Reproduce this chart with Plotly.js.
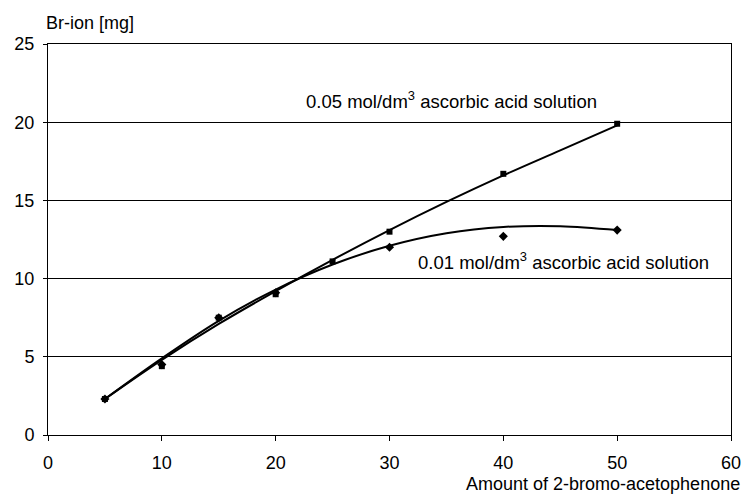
<!DOCTYPE html>
<html>
<head>
<meta charset="utf-8">
<script src="https://cdn.plot.ly/plotly-3.0.1.min.js"></script>
<style>html,body{margin:0;padding:0;background:#fff;}#chart{width:743px;height:496px;}</style>
</head>
<body>
<div id="chart"></div>
<script>
// Measured points
const x005 = [5, 10, 15, 20, 25, 30, 40, 50];
const y005 = [2.3, 4.4, 7.5, 9.0, 11.1, 13.0, 16.7, 19.9];
const x001 = [5, 10, 15, 20, 30, 40, 50];
const y001 = [2.3, 4.5, 7.5, 9.1, 12.0, 12.7, 13.1];
// Trend curves
const trendX = [5, 10, 15, 20, 25, 30, 35, 40, 45, 50];
const trend005 = [2.3, 4.8, 7.1, 9.2, 11.2, 13.1, 14.9, 16.6, 18.2, 19.8];
const trend001 = [2.3, 4.9, 7.3, 9.3, 10.9, 12.1, 12.9, 13.3, 13.35, 13.1];
const xTicks = [0, 10, 20, 30, 40, 50, 60];
const yTicks = [0, 5, 10, 15, 20, 25];
const label005 = '0.05 mol/dm<sup>3</sup> ascorbic acid solution';
const label001 = '0.01 mol/dm<sup>3</sup> ascorbic acid solution';
const yTitle = 'Br-ion [mg]';
const xTitle = 'Amount of 2-bromo-acetophenone';

const fam = 'Liberation Sans, Arial, sans-serif';
function f(size) { return {family: fam, size: size, color: '#000'}; }

const traces = [
  {x: trendX, y: trend005, mode: 'lines', line: {color: '#000', width: 2, shape: 'spline'}, hoverinfo: 'skip'},
  {x: trendX, y: trend001, mode: 'lines', line: {color: '#000', width: 2, shape: 'spline'}, hoverinfo: 'skip'},
  {x: x005, y: y005, mode: 'markers', marker: {symbol: 'square', size: 6, color: '#000'}},
  {x: x001, y: y001, mode: 'markers', marker: {symbol: 'diamond', size: 7, color: '#000'}}
];

const layout = {
  width: 743, height: 496,
  margin: {l: 48, r: 12, t: 44, b: 61},
  paper_bgcolor: '#fff', plot_bgcolor: '#fff',
  showlegend: false,
  font: f(18),
  xaxis: {
    range: [0, 60], tickvals: xTicks, ticktext: xTicks.map(String),
    showgrid: false, zeroline: false,
    showline: true, linecolor: '#000', linewidth: 1, mirror: true,
    ticks: 'outside', ticklen: 5, tickcolor: '#000',
    ticklabelstandoff: 6,
    tickfont: f(18)
  },
  yaxis: {
    range: [0, 25], tickvals: yTicks, ticktext: yTicks.map(String),
    showgrid: true, gridcolor: '#000', gridwidth: 1, zeroline: false,
    showline: true, linecolor: '#000', linewidth: 1, mirror: true,
    ticks: 'outside', ticklen: 4, tickcolor: '#000',
    ticklabelstandoff: 5,
    tickfont: f(18)
  },
  annotations: [
    {text: label005, x: 22.5, y: 21.4, xref: 'x', yref: 'y', xanchor: 'left', yanchor: 'middle', showarrow: false, font: f(18.5)},
    {text: label001, x: 32.3, y: 11.1, xref: 'x', yref: 'y', xanchor: 'left', yanchor: 'middle', showarrow: false, font: f(18.5)},
    {text: yTitle, x: -0.006, y: 1.054, xref: 'paper', yref: 'paper', xanchor: 'left', yanchor: 'middle', showarrow: false, font: f(18)},
    {text: xTitle, x: 1.016, y: -0.125, xref: 'paper', yref: 'paper', xanchor: 'right', yanchor: 'middle', showarrow: false, font: f(18)}
  ]
};

Plotly.newPlot('chart', traces, layout, {displayModeBar: false, staticPlot: true});
</script>
</body>
</html>
